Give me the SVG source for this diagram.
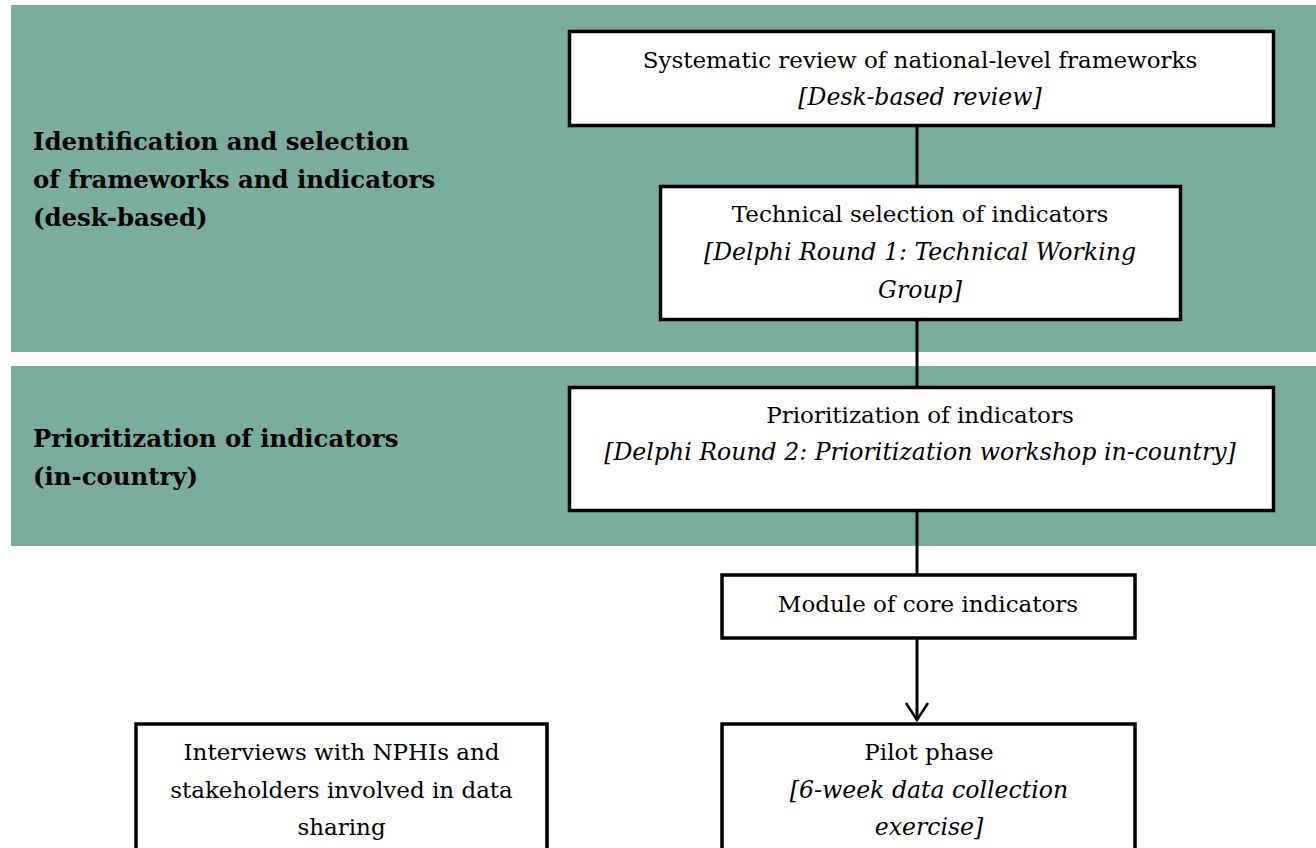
<svg xmlns="http://www.w3.org/2000/svg" width="1316" height="848" viewBox="0 0 1316 848">
<style>
.band{fill:#7aad9e}
.box{fill:#fff;stroke:#000;stroke-width:3.5}
.t{font-family:"DejaVu Serif","Liberation Serif",serif;font-size:23px;fill:#000;text-anchor:middle}
.i{font-style:italic;font-size:23.6px}
.lbl{font-family:"DejaVu Serif","Liberation Serif",serif;font-size:24.4px;font-weight:bold;fill:#000}
.conn{stroke:#000;stroke-width:3;fill:none}
</style>
<rect width="1316" height="848" fill="#fff"/>
<g id="bands">
<rect class="band" x="11" y="5" width="1305" height="347"/>
<rect class="band" x="11" y="366" width="1305" height="180"/>
</g>
<g id="label-desk">
<text class="lbl" x="33" y="150">Identification and selection</text>
<text class="lbl" x="33" y="188">of frameworks and indicators</text>
<text class="lbl" x="33" y="226">(desk-based)</text>
</g>
<g id="label-incountry">
<text class="lbl" x="33" y="447">Prioritization of indicators</text>
<text class="lbl" x="33" y="485">(in-country)</text>
</g>
<g id="connectors">
<line class="conn" x1="917" y1="127" x2="917" y2="186"/>
<line class="conn" x1="917" y1="320" x2="917" y2="387"/>
<line class="conn" x1="917" y1="511" x2="917" y2="575"/>
<path class="conn" d="M917,639 L917,720"/>
<path d="M906,703 L917,720 L928,703" fill="none" stroke="#000" stroke-width="2.5"/>
</g>
<g id="node-systematic">
<rect class="box" x="569.5" y="31.5" width="704" height="94"/>
<text class="t" x="920" y="68">Systematic review of national-level frameworks</text>
<text class="t i" x="920" y="105">[Desk-based review]</text>
</g>
<g id="node-technical">
<rect class="box" x="660.5" y="186.5" width="520" height="133"/>
<text class="t" x="920" y="222">Technical selection of indicators</text>
<text class="t i" x="920" y="260">[Delphi Round 1: Technical Working</text>
<text class="t i" x="920" y="298">Group]</text>
</g>
<g id="node-prioritization">
<rect class="box" x="569.5" y="387.5" width="704" height="123"/>
<text class="t" x="920" y="423">Prioritization of indicators</text>
<text class="t i" x="920" y="460">[Delphi Round 2: Prioritization workshop in-country]</text>
</g>
<g id="node-module">
<rect class="box" x="722" y="575" width="413" height="63"/>
<text class="t" x="928" y="612">Module of core indicators</text>
</g>
<g id="node-pilot">
<rect class="box" x="722" y="724" width="413" height="140"/>
<text class="t" x="929" y="760">Pilot phase</text>
<text class="t i" x="929" y="798">[6-week data collection</text>
<text class="t i" x="929" y="835">exercise]</text>
</g>
<g id="node-interviews">
<rect class="box" x="136" y="724" width="411" height="140"/>
<text class="t" x="341.5" y="760">Interviews with NPHIs and</text>
<text class="t" x="341.5" y="798">stakeholders involved in data</text>
<text class="t" x="341.5" y="835">sharing</text>
</g>
</svg>
